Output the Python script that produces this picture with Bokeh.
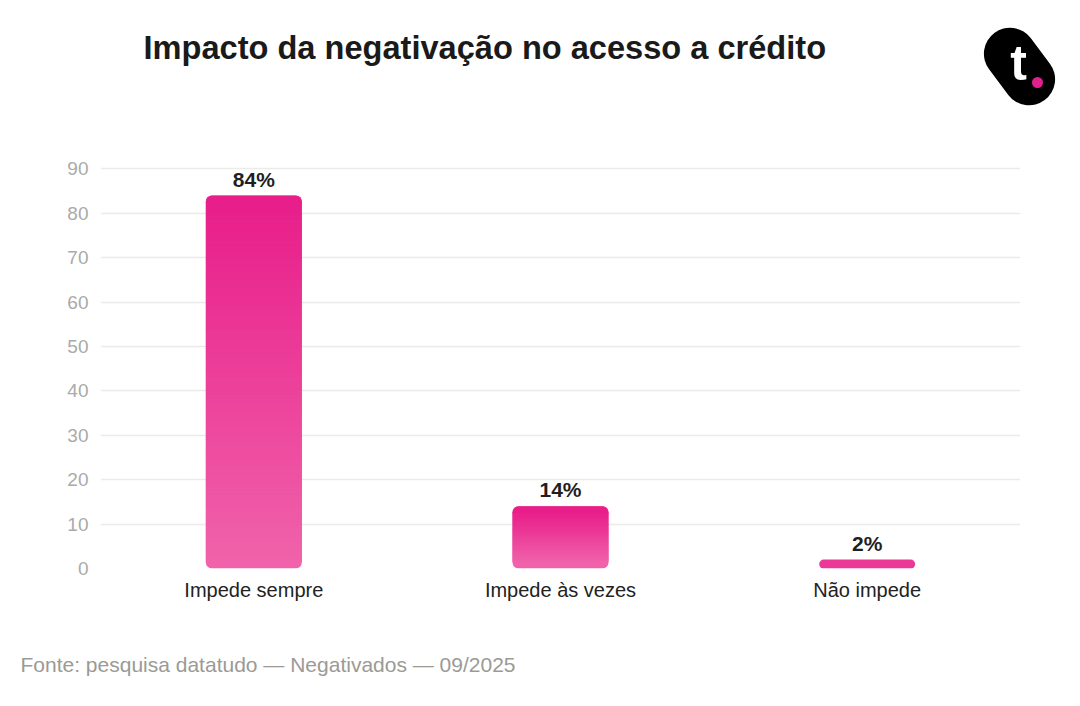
from bokeh.plotting import figure
from bokeh.models import ColumnDataSource, FactorRange, Range1d, FixedTicker, LabelSet
from bokeh.layouts import column
from bokeh.core.properties import value
from bokeh.embed import file_html
from bokeh.resources import INLINE

# ---- data ----
categories = ["Impede sempre", "Impede às vezes", "Não impede"]
values = [84, 14, 2]
value_labels = ["84%", "14%", "2%"]
y_ticks = [0, 10, 20, 30, 40, 50, 60, 70, 80, 90]
title_text = "Impacto da negativação no acesso a crédito"
footer_text = "Fonte: pesquisa datatudo — Negativados — 09/2025"

FONT = "Liberation Sans"
TOP_RGB = (232, 30, 138)
BOTTOM_RGB = (240, 98, 170)
BAR_W = 0.313
W = 1072


def blank(height):
    f = figure(width=W, height=height, output_backend="svg", toolbar_location=None,
               x_range=Range1d(0, W), y_range=Range1d(height, 0),
               x_axis_type=None, y_axis_type=None, min_border=0)
    f.frame_align = False
    f.outline_line_color = None
    f.grid.visible = False
    f.background_fill_color = "white"
    f.border_fill_color = "white"
    return f


# ---- header: title + logo ----
head = blank(150)
head.text(x=[143], y=[47], text=[title_text], text_font=value(FONT),
          text_font_style="bold", text_font_size="32.6px", text_color="#1a1a1a",
          text_baseline="alphabetic", text_align="left")
head.line(x=[1009.4, 1028.6], y=[53.2, 78.8], line_width=52, line_cap="round",
          line_color="black")
head.text(x=[1018], y=[62], text=["t"], text_font=value(FONT), text_font_style="bold",
          text_font_size="50px", text_color="white", text_align="center",
          text_baseline="alphabetic")
head.scatter(x=[1037], y=[82], size=11, fill_color="#e0208c", line_color=None)

# ---- main chart ----
p = figure(width=W, height=490, output_backend="svg", toolbar_location=None,
           x_range=FactorRange(*categories, range_padding=0),
           y_range=Range1d(0, 91),
           min_border_left=100, min_border_right=52, min_border_top=14,
           min_border_bottom=72)
p.outline_line_color = None
p.background_fill_color = "white"
p.border_fill_color = "white"


def mix(f):
    r = [round(BOTTOM_RGB[i] + (TOP_RGB[i] - BOTTOM_RGB[i]) * f) for i in range(3)]
    return "#%02x%02x%02x" % tuple(r)


# gradient built from each value: rounded base, body slices, rounded top cap
CAP = 1.4   # in value units (~6 px)
EPS = 0.15
parts = {k: dict(x=[], b=[], t=[], c=[]) for k in ("base", "single", "body", "cap")}


def add(key, cat, b, t, c):
    g = parts[key]
    g["x"].append(cat); g["b"].append(b); g["t"].append(t); g["c"].append(c)


for cat, v in zip(categories, values):
    if v <= 2 * CAP:
        add("single", cat, 0, v, mix(0.6))
        continue
    add("base", cat, 0, v, mix(0))
    lo, hi = CAP, v - CAP
    n = max(1, int(round((hi - lo) * 2)))
    for i in range(n):
        b = lo + (hi - lo) * i / n
        t = min(lo + (hi - lo) * (i + 1) / n + EPS, hi)
        add("body", cat, b, t, mix((i + 0.5) / n))
    add("cap", cat, hi - EPS, v, mix(1))

radius = {"base": 6, "single": 5, "body": 0, "cap": (6, 6, 0, 0)}
for key in ("base", "single", "body", "cap"):
    g = parts[key]
    if not g["x"]:
        continue
    src = ColumnDataSource(dict(x=g["x"], bottom=g["b"], top=g["t"], color=g["c"]))
    p.vbar(x="x", bottom="bottom", top="top", width=BAR_W, source=src,
           fill_color="color", line_color=None, border_radius=radius[key])

lsrc = ColumnDataSource(dict(x=categories, y=values, text=value_labels))
p.add_layout(LabelSet(x="x", y="y", text="text", source=lsrc, y_offset=9,
                      text_align="center", text_baseline="alphabetic",
                      text_font=value(FONT), text_font_style="bold",
                      text_font_size="21px", text_color="#1f1f1f"))

p.yaxis.ticker = FixedTicker(ticks=y_ticks)
p.yaxis.axis_line_color = None
p.yaxis.major_tick_line_color = None
p.yaxis.minor_tick_line_color = None
p.yaxis.major_tick_out = 0
p.yaxis.major_label_standoff = 12
p.yaxis.major_label_text_font = FONT
p.yaxis.major_label_text_font_size = "19px"
p.yaxis.major_label_text_color = "#aaaaaa"

p.xaxis.axis_line_color = None
p.xaxis.major_tick_line_color = None
p.xaxis.major_tick_out = 0
p.xaxis.major_label_standoff = 10
p.xaxis.major_label_text_font = FONT
p.xaxis.major_label_text_font_size = "20px"
p.xaxis.major_label_text_color = "#222222"

p.xgrid.grid_line_color = None
p.ygrid.grid_line_color = "#ecebe7"
p.ygrid.grid_line_width = 1.5

# ---- footer ----
foot = blank(58)
foot.text(x=[20], y=[24], text=[footer_text], text_font=value(FONT),
          text_font_size="21px", text_color="#9b9a94", text_baseline="alphabetic",
          text_align="left")

layout = column(head, p, foot, spacing=0)
open("out.html", "w").write(file_html(layout, INLINE))
